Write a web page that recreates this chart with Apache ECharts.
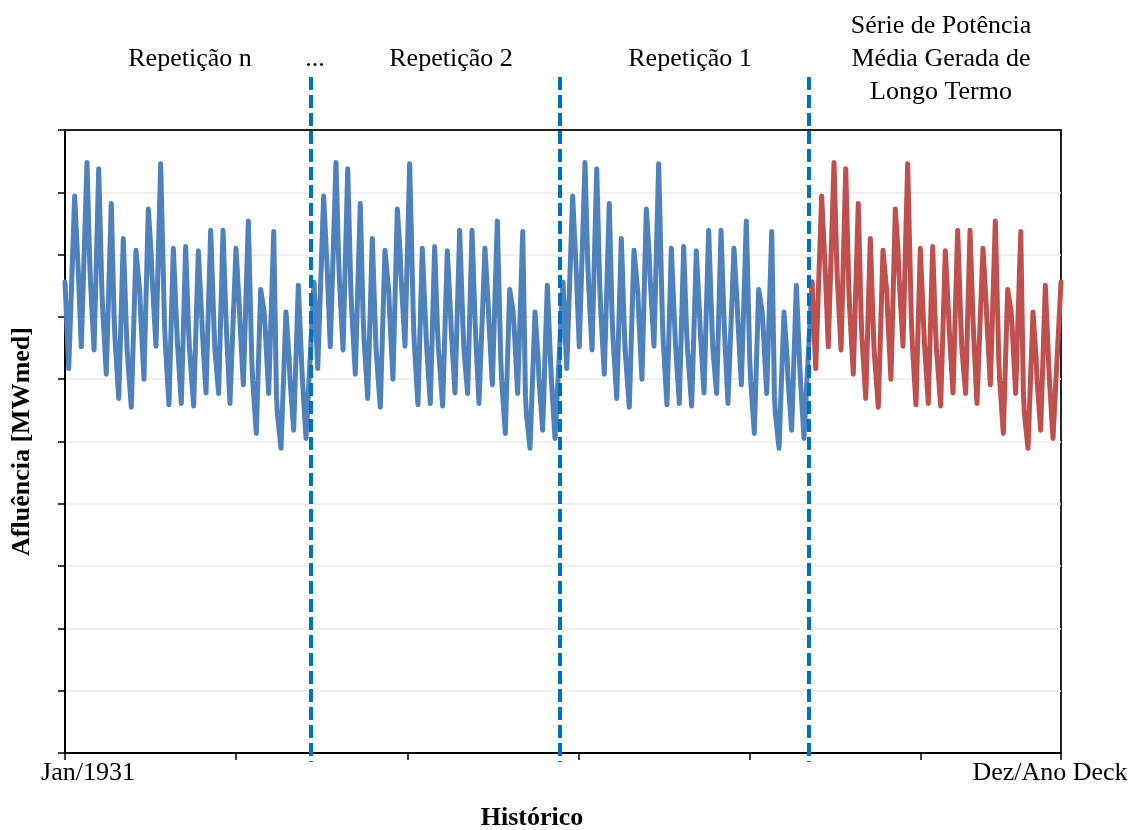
<!DOCTYPE html>
<html>
<head>
<meta charset="utf-8">
<title>Afluência – série histórica repetida</title>
<script src="https://cdn.jsdelivr.net/npm/echarts@6/dist/echarts.min.js"></script>
<style>
  html, body { margin: 0; padding: 0; background: #ffffff; }
  #chart { width: 1138px; height: 830px; }
</style>
</head>
<body>
<div id="chart"></div>
<script>
// Historical record (months since Jan/1931) – turning points of the inflow series:
// troughs, flood peaks and the recession shoulders in between.
const baseMonths = [
  0, 3.6,
  9.3, 12.0, 12.9, 15.7,
  21.2, 23.7, 24.6, 28.0,
  32.5, 35.5, 36.4, 39.8,
  44.6, 47.3, 48.2, 51.8,
  56.2, 59.0, 59.9, 63.9,
  68.4, 72.1, 73.0, 76.1,
  80.3, 83.0, 83.9, 87.7,
  92.2, 95.9, 96.8, 100.2,
  104.4, 107.5, 108.4, 112.1,
  116.3, 119.0, 119.9, 124.0,
  128.5, 131.5, 132.4, 135.9,
  140.4, 143.7, 144.6, 148.1,
  152.3, 155.3, 156.2, 159.0,
  164.8, 167.8, 168.7, 171.9,
  176.7, 180.0, 180.9, 184.4,
  188.6, 191.9, 193.2, 196.3,
  201.2, 203.8, 204.7, 208.2,
  213.0, 216.0, 216.9, 220.4,
  224.9, 228.2, 229.1, 232.3
];
const baseValues = [
  75.6, 61.7,
  89.4, 80.0, 77.0, 65.2,
  94.8, 79.5, 75.5, 64.7,
  93.8, 74.5, 71.0, 60.8,
  88.2, 70.2, 66.5, 56.9,
  82.6, 68.5, 64.6, 55.5,
  80.7, 74.0, 70.3, 60.0,
  87.3, 80.3, 76.5, 65.3,
  94.6, 68.9, 65.4, 55.9,
  81.0, 69.1, 65.7, 56.1,
  81.3, 68.2, 65.1, 55.7,
  80.6, 70.9, 67.5, 57.8,
  83.9, 68.0, 64.5, 57.7,
  83.9, 69.1, 65.7, 56.1,
  81.0, 72.3, 69.0, 59.1,
  85.4, 63.2, 59.8, 51.3,
  74.4, 70.9, 67.5, 57.7,
  83.7, 57.4, 54.5, 48.9,
  70.8, 63.4, 59.9, 51.8,
  75.1, 62.1, 59.2, 50.5
];
const recordLength = 240;      // months in one pass of the record
const repetitions = 4;         // three repetitions + long-term series
const boundaryOffset = -2.5;   // separator position relative to each pass start

const topLabels = ['Repetição n', '...', 'Repetição 2', 'Repetição 1'];
const longTermLabel = ['Série de Potência', 'Média Gerada de', 'Longo Termo'];
const xEndLabels = ['Jan/1931', 'Dez/Ano Deck'];
const xAxisTitle = 'Histórico';
const yAxisTitle = 'Afluência [MWmed]';

// Build the repeated passes from the base record
const repeated = [];
const longTerm = [];
for (let r = 0; r < repetitions; r++) {
  const target = r < repetitions - 1 ? repeated : longTerm;
  baseMonths.forEach((m, i) => target.push([m + r * recordLength, baseValues[i]]));
}
repeated.push([(repetitions - 1) * recordLength, baseValues[0]]);
longTerm.push([repetitions * recordLength, baseValues[0]]);

const FONT = '"Liberation Serif", "Times New Roman", serif';
const chart = echarts.init(document.getElementById('chart'), null, { renderer: 'canvas' });

chart.setOption({
  animation: false,
  backgroundColor: '#ffffff',
  grid: {
    left: 65, right: 77, top: 130, bottom: 77,
    show: true, borderColor: '#222222', borderWidth: 2,
    outerBoundsMode: 'none'
  },
  xAxis: {
    type: 'value',
    min: 0,
    max: repetitions * recordLength,
    interval: 165,
    name: xAxisTitle,
    nameLocation: 'middle',
    nameGap: 52,
    nameTextStyle: {
      fontFamily: FONT, fontSize: 26, fontWeight: 'bold', color: '#000',
      padding: [0, 62, 0, 0]
    },
    axisLine: { show: true, lineStyle: { color: '#000', width: 2 } },
    axisTick: { show: true, length: 7, lineStyle: { color: '#000', width: 1.5 } },
    splitLine: { show: false },
    axisLabel: {
      show: true,
      margin: 7,
      showMinLabel: true,
      showMaxLabel: true,
      formatter: function (v) {
        if (v === 0) return '{a|' + xEndLabels[0] + '}';
        if (v === repetitions * recordLength) return '{b|' + xEndLabels[1] + '}';
        return '';
      },
      rich: {
        a: { fontFamily: FONT, fontSize: 26, color: '#000', padding: [0, 0, 0, 46] },
        b: { fontFamily: FONT, fontSize: 26, color: '#000', padding: [0, 22, 0, 0] }
      }
    }
  },
  yAxis: {
    type: 'value',
    min: 0, max: 100, interval: 10,
    name: yAxisTitle,
    nameLocation: 'middle',
    nameGap: 30,
    nameTextStyle: { fontFamily: FONT, fontSize: 26, fontWeight: 'bold', color: '#000' },
    axisLine: { show: true, lineStyle: { color: '#000', width: 2 } },
    axisTick: { show: true, length: 7, lineStyle: { color: '#000', width: 1.5 } },
    axisLabel: { show: false },
    splitLine: { show: true, showMaxLine: false, lineStyle: { color: '#ebebeb', width: 1.5 } }
  },
  series: [
    {
      type: 'line', data: repeated, symbol: 'none', smooth: false,
      lineStyle: { color: '#4f81bd', width: 5, cap: 'round', join: 'round' },
      z: 2
    },
    {
      type: 'line', data: longTerm, symbol: 'none', smooth: false,
      lineStyle: { color: '#c0504d', width: 5, cap: 'round', join: 'round' },
      z: 3
    }
  ]
});

// Separators between passes and the captions above the plot
const graphics = [];
for (let r = 1; r < repetitions; r++) {
  const x = Math.round(chart.convertToPixel({ xAxisIndex: 0 }, r * recordLength + boundaryOffset));
  graphics.push({
    type: 'line', z: 100,
    shape: { x1: x, y1: 77, x2: x, y2: 762 },
    style: { stroke: '#0070c0', lineWidth: 4, lineDash: [13, 5] }
  });
}
const captionStyle = { fontFamily: FONT, fontSize: 26, fill: '#000', textAlign: 'center', textVerticalAlign: 'middle' };
const captionX = [190, 315, 451, 690];
topLabels.forEach((t, i) => {
  graphics.push({ type: 'text', x: captionX[i], y: 59, style: Object.assign({ text: t }, captionStyle) });
});
longTermLabel.forEach((t, i) => {
  graphics.push({ type: 'text', x: 941, y: 26 + i * 33, style: Object.assign({ text: t }, captionStyle) });
});
chart.setOption({ graphic: graphics });
</script>
</body>
</html>
